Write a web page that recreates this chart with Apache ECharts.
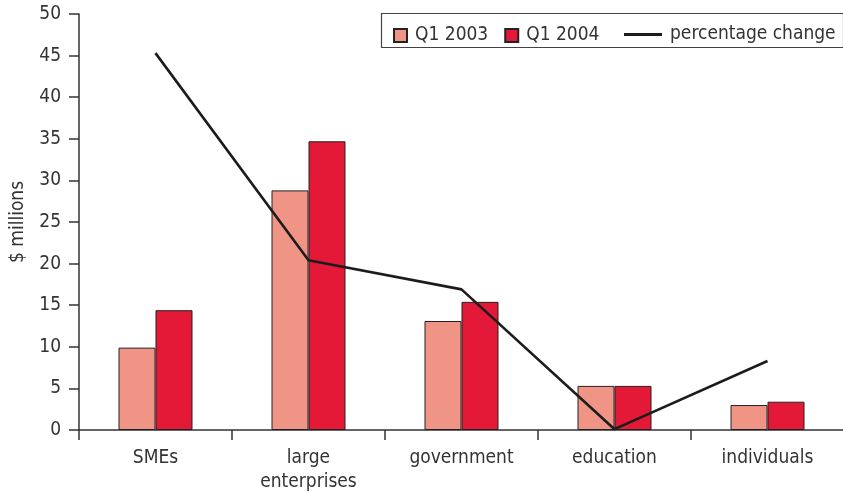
<!DOCTYPE html>
<html>
<head>
<meta charset="utf-8">
<script src="https://cdn.jsdelivr.net/npm/echarts@6/dist/echarts.min.js"></script>
<style>
  html, body { margin: 0; padding: 0; background: #fff; }
  #chart { width: 843px; height: 494px; }
</style>
</head>
<body>
<div id="chart"></div>
<script>
// Spending by customer segment, $ millions
const categories = ['SMEs', 'large\nenterprises', 'government', 'education', 'individuals'];
const q1_2003 = [9.9, 28.8, 13.1, 5.3, 3.0];
const q1_2004 = [14.4, 34.7, 15.4, 5.3, 3.4];
const pctChange = [45.3, 20.4, 16.9, 0.1, 8.3];
const yTicks = { min: 0, max: 50, interval: 5 };

const FONT = '"DejaVu Sans Condensed", "Liberation Sans Narrow", "Roboto", sans-serif';
const TEXT = '#333';
const COL_2003 = '#F09486';
const COL_2004 = '#E31937';

const chart = echarts.init(document.getElementById('chart'), null, { renderer: 'canvas' });

chart.setOption({
  animation: false,
  backgroundColor: '#fff',
  textStyle: { fontFamily: FONT, color: TEXT },
  grid: { left: 79, right: -1, top: 14, bottom: 64, containLabel: false, outerBoundsMode: 'none' },
  legend: [
    {
      data: ['Q1 2003', 'Q1 2004'],
      left: 388, top: 21,
      itemWidth: 13, itemHeight: 13, itemGap: 16,
      icon: 'rect',
      textStyle: { fontFamily: FONT, fontSize: 19, color: TEXT, padding: [0, 0, 0, 3] },
      selectedMode: false
    },
    {
      data: [{ name: 'percentage change', icon: 'path://M0,0H40V3H0Z' }],
      left: 619, top: 20,
      itemWidth: 38, itemHeight: 14,
      textStyle: { fontFamily: FONT, fontSize: 19, color: TEXT, padding: [0, 0, 0, 3] },
      selectedMode: false
    }
  ],
  graphic: [
    {
      type: 'rect',
      shape: { x: 381.5, y: 13.5, width: 462, height: 34 },
      style: { fill: 'none', stroke: '#444', lineWidth: 1.2 },
      z: 0
    }
  ],
  xAxis: {
    type: 'category',
    data: categories,
    axisLine: { lineStyle: { color: TEXT, width: 1.5 } },
    axisTick: { show: true, length: 10, lineStyle: { color: TEXT, width: 1.5 } },
    axisLabel: { fontFamily: FONT, fontSize: 19, color: TEXT, margin: 16, lineHeight: 24 }
  },
  yAxis: {
    type: 'value',
    min: yTicks.min, max: yTicks.max, interval: yTicks.interval,
    name: '$ millions',
    nameLocation: 'middle',
    nameGap: 51,
    nameRotate: 90,
    nameTextStyle: { fontFamily: FONT, fontSize: 19, color: TEXT },
    axisLine: { show: true, lineStyle: { color: TEXT, width: 1.5 } },
    axisTick: { show: true, length: 10, lineStyle: { color: TEXT, width: 1.5 } },
    axisLabel: { fontFamily: FONT, fontSize: 19, color: TEXT, margin: 18 },
    splitLine: { show: false }
  },
  series: [
    {
      name: 'Q1 2003',
      type: 'bar',
      data: q1_2003,
      barWidth: 37,
      barGap: '0%',
      itemStyle: { color: COL_2003, borderColor: '#222', borderWidth: 1 }
    },
    {
      name: 'Q1 2004',
      type: 'bar',
      data: q1_2004,
      barWidth: 37,
      barGap: '0%',
      itemStyle: { color: COL_2004, borderColor: '#222', borderWidth: 1 }
    },
    {
      name: 'percentage change',
      type: 'line',
      data: pctChange,
      symbol: 'none',
      z: 5,
      lineStyle: { color: '#1c1c1c', width: 2.6 },
      itemStyle: { color: '#1c1c1c' }
    }
  ]
});
</script>
</body>
</html>
